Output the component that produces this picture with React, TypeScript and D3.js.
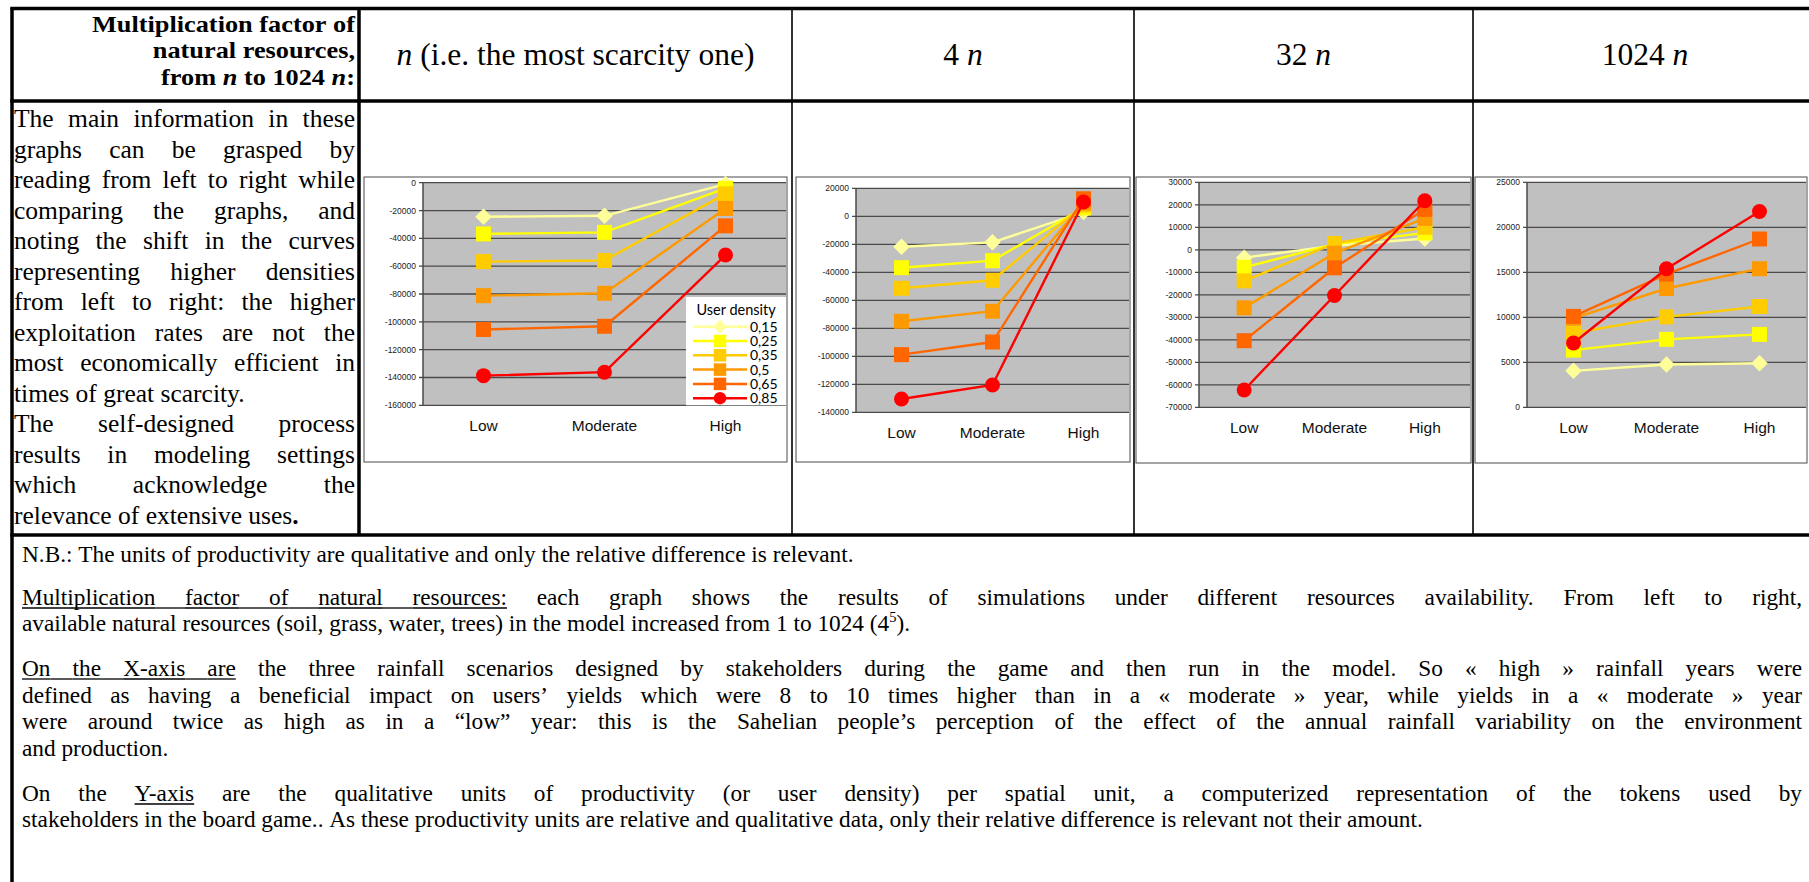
import React, { useEffect } from 'react';
import * as d3 from 'd3';

// ---------------- data ----------------
const categories = ['Low', 'Moderate', 'High'];
const userDensities = ['0,15', '0,25', '0,35', '0,5', '0,65', '0,85'];
const densityColors = ['#FFFF99', '#FFFF00', '#FFCC00', '#FF9900', '#FF6600', '#FF0000'];
const densityMarkers = ['diamond', 'square', 'square', 'square', 'square', 'circle'];

const columnTitles = ['*n* (i.e. the most scarcity one)', '4 *n*', '32 *n*', '1024 *n*'];

// rows: user density 0,15 ... 0,85 ; columns: Low, Moderate, High
const productivity1n = [
  [-24500, -23800, -1000],
  [-36800, -35700, -4000],
  [-56700, -55900, -8000],
  [-81200, -79500, -18500],
  [-105500, -103200, -31000],
  [-138700, -136200, -52000],
];
const productivity4n = [
  [-21700, -18600, 3000],
  [-36700, -31700, 6000],
  [-51400, -45700, 8000],
  [-75000, -67800, 9500],
  [-98800, -89800, 12500],
  [-130500, -120500, 10200],
];
const productivity32n = [
  [-3500, 1800, 5000],
  [-7800, 2500, 7500],
  [-13800, 2800, 10000],
  [-25800, -1500, 14000],
  [-40400, -8000, 18000],
  [-62300, -20300, 21800],
];
const productivity1024n = [
  [4050, 4750, 4900],
  [6350, 7550, 8100],
  [8250, 10050, 11200],
  [9900, 13200, 15400],
  [10100, 14800, 18700],
  [7150, 15400, 21750],
];

const ticks1n = [0, -20000, -40000, -60000, -80000, -100000, -120000, -140000, -160000];
const ticks4n = [20000, 0, -20000, -40000, -60000, -80000, -100000, -120000, -140000];
const ticks32n = [30000, 20000, 10000, 0, -10000, -20000, -30000, -40000, -50000, -60000, -70000];
const ticks1024n = [25000, 20000, 15000, 10000, 5000, 0];

const headerLeftLines = ['Multiplication factor of', 'natural resources,', 'from *n* to 1024 *n*:'];

const leftNoteLines = [
  'The main information in these',
  'graphs can be grasped by',
  'reading from left to right while',
  'comparing the graphs, and',
  'noting the shift in the curves',
  'representing higher densities',
  'from left to right: the higher',
  'exploitation rates are not the',
  'most economically efficient in',
  'times of great scarcity.',
  'The self-designed process',
  'results in modeling settings',
  'which acknowledge the',
  'relevance of extensive uses#.#',
];

const footnoteLines = [
  'N.B.: The units of productivity are qualitative and only the relative difference is relevant.',
  '_Multiplication factor of natural resources:_ each graph shows the results of simulations under different resources availability. From left to right,',
  'available natural resources (soil, grass, water, trees) in the model increased from 1 to 1024 (4^5^).',
  '_On the X-axis are_ the three rainfall scenarios designed by stakeholders during the game and then run in the model. So « high » rainfall years were',
  'defined as having a beneficial impact on users’ yields which were 8 to 10 times higher than in a « moderate » year, while yields in a « moderate » year',
  'were around twice as high as in a “low” year: this is the Sahelian people’s perception of the effect of the annual rainfall variability on the environment',
  'and production.',
  'On the _Y-axis_ are the qualitative units of productivity (or user density) per spatial unit, a computerized representation of the tokens used by',
  'stakeholders in the board game.. As these productivity units are relative and qualitative data, only their relative difference is relevant not their amount.',
];

// ---------------- layout ----------------
const SERIF = "'Liberation Serif', 'Times New Roman', serif";
const SANS = "'Liberation Sans', Arial, sans-serif";
const CAL = "Lato, 'Open Sans', sans-serif";

const W = 1809;
const H = 882;

const leftNoteLeftAligned = new Set([9, 13]);
const footBaselines = [562, 605, 631, 676, 703, 729, 756, 801, 827];
const footJustify = [false, true, false, true, true, true, false, true, false];

const panels = [
  { values: productivity1n, ticks: ticks1n, frame: { x: 364, y: 177, w: 423, h: 285 }, plot: { l: 423, r: 786, t: 182.7, b: 405.3 }, legend: true },
  { values: productivity4n, ticks: ticks4n, frame: { x: 796, y: 177, w: 334, h: 285 }, plot: { l: 856, r: 1129, t: 188.3, b: 412.3 }, legend: false },
  { values: productivity32n, ticks: ticks32n, frame: { x: 1136, y: 177, w: 335, h: 286 }, plot: { l: 1199, r: 1470, t: 182.3, b: 407.3 }, legend: false },
  { values: productivity1024n, ticks: ticks1024n, frame: { x: 1475, y: 177, w: 332, h: 286 }, plot: { l: 1527, r: 1806, t: 182.3, b: 407.3 }, legend: false },
];

// ---------------- text helpers ----------------
let _ctx: CanvasRenderingContext2D | null = null;
function measure(t: string, size: number, bold: boolean, italic: boolean, family = SERIF) {
  if (!_ctx) {
    const c = document.createElement('canvas');
    _ctx = c.getContext('2d');
  }
  _ctx!.font = `${italic ? 'italic ' : ''}${bold ? 'bold ' : ''}${size}px ${family}`;
  return _ctx!.measureText(t).width;
}

type Seg = { t: string; b: boolean; i: boolean; u: boolean; sup: boolean };

function parseLine(s: string, bold0 = false): Seg[][] {
  const words: Seg[][] = [];
  let cur: Seg[] = [];
  let buf = '';
  let b = bold0, i = false, u = false, sup = false;
  const flush = () => {
    if (buf) {
      cur.push({ t: buf, b, i, u, sup });
      buf = '';
    }
  };
  for (const ch of s) {
    if (ch === '#') { flush(); b = !b; }
    else if (ch === '*') { flush(); i = !i; }
    else if (ch === '_') { flush(); u = !u; }
    else if (ch === '^') { flush(); sup = !sup; }
    else if (ch === ' ') { flush(); if (cur.length) words.push(cur); cur = []; }
    else buf += ch;
  }
  flush();
  if (cur.length) words.push(cur);
  return words;
}

const segSize = (s: Seg, size: number) => (s.sup ? size * 0.62 : size);
const segWidth = (s: Seg, size: number) => measure(s.t, segSize(s, size), s.b, s.i);

type Align = 'left' | 'right' | 'center' | 'justify';

function TextLine(props: { src: string; x: number; y: number; width: number; size: number; align: Align; bold?: boolean }) {
  const { src, x, y, width, size, align, bold } = props;
  const words = parseLine(src, !!bold);
  const ww = words.map((w) => w.reduce((a, s) => a + segWidth(s, size), 0));
  const total = ww.reduce((a, b) => a + b, 0);
  const space = measure(' ', size, !!bold, false);
  const natural = total + space * (words.length - 1);
  let gap = space;
  let x0 = x;
  if (align === 'justify' && words.length > 1) gap = (width - total) / (words.length - 1);
  if (align === 'right') x0 = x + width - natural;
  if (align === 'center') x0 = x + (width - natural) / 2;
  const els: React.ReactNode[] = [];
  let cx = x0;
  words.forEach((w, wi) => {
    if (wi > 0) {
      const prev = words[wi - 1];
      if (prev[prev.length - 1].u && w[0].u) {
        els.push(<line key={`g${wi}`} x1={cx} x2={cx + gap} y1={y + 3} y2={y + 3} stroke="#000" strokeWidth={1.3} />);
      }
      cx += gap;
    }
    w.forEach((s, si) => {
      const sw = segWidth(s, size);
      els.push(
        <text
          key={`t${wi}_${si}`}
          x={cx}
          y={s.sup ? y - size * 0.4 : y}
          fontSize={segSize(s, size)}
          fontFamily={SERIF}
          fontWeight={s.b ? 'bold' : 'normal'}
          fontStyle={s.i ? 'italic' : 'normal'}
          fill="#000"
        >
          {s.t}
        </text>
      );
      if (s.u) {
        els.push(<line key={`u${wi}_${si}`} x1={cx} x2={cx + sw} y1={y + 3} y2={y + 3} stroke="#000" strokeWidth={1.3} />);
      }
      cx += sw;
    });
  });
  return <g>{els}</g>;
}

// multi-line right-aligned bold block (slightly widened horizontally)
function RightBlock({ lines, right, y0, step, size, sx }: { lines: string[]; right: number; y0: number; step: number; size: number; sx: number }) {
  return (
    <g transform={`translate(${right},0) scale(${sx},1) translate(${-right},0)`}>
      {lines.map((l, li) => {
        const segs = parseLine(l, true);
        const parts: React.ReactNode[] = [];
        segs.forEach((w, wi) => {
          w.forEach((s, si) => {
            const txt = (wi > 0 && si === 0 ? ' ' : '') + s.t;
            parts.push(
              <tspan key={`${wi}_${si}`} fontStyle={s.i ? 'italic' : 'normal'} style={{ whiteSpace: 'pre' }}>
                {txt}
              </tspan>
            );
          });
        });
        return (
          <text key={li} x={right} y={y0 + li * step} textAnchor="end" fontFamily={SERIF} fontWeight="bold" fontSize={size} fill="#000">
            {parts}
          </text>
        );
      })}
    </g>
  );
}

// ---------------- chart pieces ----------------
function Marker({ kind, cx, cy, color, s }: { kind: string; cx: number; cy: number; color: string; s: number }) {
  if (kind === 'square') return <rect x={cx - s / 2} y={cy - s / 2} width={s} height={s} fill={color} />;
  if (kind === 'circle') return <circle cx={cx} cy={cy} r={s / 2} fill={color} />;
  const h = (s * 1.1) / 2;
  return <path d={`M${cx},${cy - h}L${cx + h},${cy}L${cx},${cy + h}L${cx - h},${cy}Z`} fill={color} />;
}

function Legend({ x, y, w, h }: { x: number; y: number; w: number; h: number }) {
  return (
    <g>
      <rect x={x} y={y} width={w} height={h} fill="#fff" />
      <text x={x + 10.5} y={y + 18} fontFamily={CAL} fontSize={14.5} fill="#000">User density</text>
      {userDensities.map((d, i) => {
        const cy = y + 29.7 + i * 14.3;
        return (
          <g key={d}>
            <line x1={x + 7} x2={x + 61} y1={cy} y2={cy} stroke={densityColors[i]} strokeWidth={2.5} />
            <Marker kind={densityMarkers[i]} cx={x + 34} cy={cy} color={densityColors[i]} s={12.5} />
            <text x={x + 64} y={cy + 5} fontFamily={CAL} fontSize={14} fill="#000">{d}</text>
          </g>
        );
      })}
    </g>
  );
}

function Panel({ p }: { p: (typeof panels)[number] }) {
  const { values, ticks, frame, plot } = p;
  const [lo, hi] = d3.extent(ticks) as [number, number];
  const y = d3.scaleLinear().domain([lo, hi]).range([plot.b, plot.t]);
  const x = d3.scalePoint<string>().domain(categories).range([plot.l, plot.r]).padding(0.5);
  const line = d3
    .line<number>()
    .x((_, i) => x(categories[i])!)
    .y((v) => y(v));
  return (
    <g>
      <rect x={frame.x} y={frame.y} width={frame.w} height={frame.h} fill="#fff" stroke="#4a4a4a" strokeWidth={1} />
      <rect x={plot.l} y={plot.t} width={plot.r - plot.l} height={plot.b - plot.t} fill="#C0C0C0" />
      {ticks.map((t) => (
        <line key={`g${t}`} x1={plot.l - 4} x2={plot.r} y1={y(t)} y2={y(t)} stroke="#4a4a4a" strokeWidth={1.3} />
      ))}
      <line x1={plot.l} x2={plot.l} y1={plot.t} y2={plot.b} stroke="#4a4a4a" strokeWidth={1.5} />
      {ticks.map((t) => (
        <text key={`l${t}`} x={plot.l - 7} y={y(t) + 3} textAnchor="end" fontFamily={SANS} fontSize={8.5} fill="#222">
          {String(t)}
        </text>
      ))}
      {categories.map((c) => (
        <text key={c} x={x(c)} y={plot.b + 25.5} textAnchor="middle" fontFamily={SANS} fontSize={15.5} fill="#111">
          {c}
        </text>
      ))}
      {values.map((vals, si) => (
        <g key={si}>
          <path d={line(vals) || ''} fill="none" stroke={densityColors[si]} strokeWidth={2.4} />
          {vals.map((v, i) => (
            <Marker key={i} kind={densityMarkers[si]} cx={x(categories[i])!} cy={y(v)} color={densityColors[si]} s={15} />
          ))}
        </g>
      ))}
      {p.legend && <Legend x={686} y={297} w={plot.r - 686} h={plot.b - 297} />}
    </g>
  );
}

// ---------------- app ----------------
export default function App() {
  useEffect(() => {
    document.body.style.margin = '0';
    document.body.style.overflow = 'hidden';
  }, []);

  const colEdges = [359, 792, 1134, 1473, 1817];
  const top = 8.5;
  const headBottom = 101;
  const rowBottom = 535;
  const left = 12;

  return (
    <svg width={W} height={H} style={{ position: 'absolute', left: 0, top: 0, background: '#fff' }}>
      <rect x={0} y={0} width={W} height={H} fill="#fff" />

      {/* charts */}
      {panels.map((p, i) => (
        <Panel key={i} p={p} />
      ))}

      {/* table rules */}
      <line x1={left - 1.75} x2={W} y1={top} y2={top} stroke="#000" strokeWidth={3.5} />
      <line x1={left - 1.75} x2={W} y1={headBottom} y2={headBottom} stroke="#000" strokeWidth={3.5} />
      <line x1={left - 1.75} x2={W} y1={rowBottom} y2={rowBottom} stroke="#000" strokeWidth={3.5} />
      <line x1={left} x2={left} y1={top} y2={H} stroke="#000" strokeWidth={3.5} />
      <line x1={colEdges[0]} x2={colEdges[0]} y1={top} y2={rowBottom} stroke="#000" strokeWidth={3.5} />
      {colEdges.slice(1, 4).map((cx) => (
        <line key={cx} x1={cx} x2={cx} y1={top} y2={rowBottom} stroke="#000" strokeWidth={1.6} />
      ))}

      {/* header */}
      <RightBlock lines={headerLeftLines} right={355} y0={32} step={26.3} size={23.5} sx={1.12} />
      {columnTitles.map((t, i) => (
        <TextLine key={t} src={t} x={colEdges[i]} y={65} width={colEdges[i + 1] - colEdges[i]} size={31.5} align="center" />
      ))}

      {/* left note */}
      {leftNoteLines.map((l, i) => (
        <TextLine
          key={i}
          src={l}
          x={14}
          y={127 + i * 30.5}
          width={341}
          size={25.5}
          align={leftNoteLeftAligned.has(i) ? 'left' : 'justify'}
        />
      ))}

      {/* footnotes */}
      {footnoteLines.map((l, i) => (
        <TextLine key={i} src={l} x={22} y={footBaselines[i]} width={1780} size={23.3} align={footJustify[i] ? 'justify' : 'left'} />
      ))}
    </svg>
  );
}
